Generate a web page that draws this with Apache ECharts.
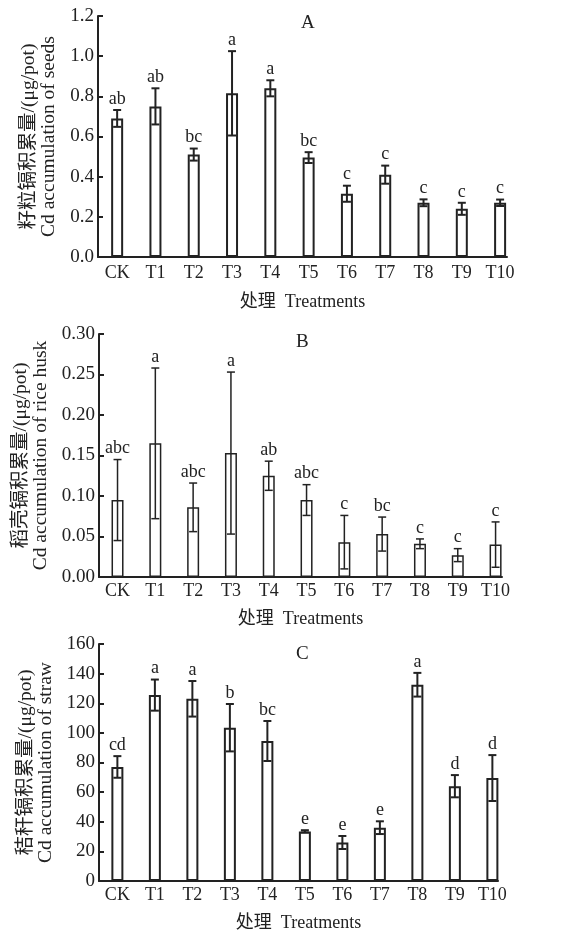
<!DOCTYPE html>
<html><head><meta charset="utf-8">
<script src="https://cdn.jsdelivr.net/npm/echarts@6/dist/echarts.min.js"></script>
<style>html,body{margin:0;padding:0;background:#fff}#c{width:566px;height:933px}</style>
</head><body><div id="c"></div>
<script>
const categories = ['CK','T1','T2','T3','T4','T5','T6','T7','T8','T9','T10'];
const seedsMean = [0.69,0.75,0.51,0.815,0.84,0.495,0.315,0.41,0.27,0.24,0.27];
const seedsErr = [0.042,0.09,0.03,0.21,0.04,0.027,0.04,0.045,0.017,0.03,0.016];
const seedsLetters = ['ab','ab','bc','a','a','bc','c','c','c','c','c'];
const huskMean = [0.095,0.165,0.086,0.153,0.125,0.095,0.043,0.053,0.041,0.027,0.040];
const huskErr = [0.05,0.093,0.03,0.10,0.018,0.019,0.033,0.021,0.006,0.008,0.028];
const huskLetters = ['abc','a','abc','a','ab','abc','c','bc','c','c','c'];
const strawMean = [77,125.5,123,103.5,94.5,33.5,26,36,132.5,64,69.5];
const strawErr = [7.3,10.5,12,16,13.5,0.8,4.4,4.3,8,7.5,15.5];
const strawLetters = ['cd','a','a','b','bc','e','e','e','a','d','d'];
const yNames = ['籽粒镉积累量/(μg/pot)\nCd accumulation of seeds','稻壳镉积累量/(μg/pot)\nCd accumulation of rice husk','秸秆镉积累量/(μg/pot)\nCd accumulation of straw'];
const panelTitles = ['A','B','C'];
const xName = '处理  Treatments';

const FONT = "'Liberation Serif','Times New Roman','Noto Sans CJK SC',serif";
const INK = '#222';
const chart = echarts.init(document.getElementById('c'));

const panels = [
  {mean:seedsMean, err:seedsErr, letters:seedsLetters, grid:{left:98,top:16,width:409,height:241}, xmin:-0.5, xmax:10.18, ymax:1.2, interval:0.2, dec:1, title:{left:296,top:9}, nameGap:36, labelMargin:7, lw:2},
  {mean:huskMean, err:huskErr, letters:huskLetters, grid:{left:99,top:334,width:403,height:243}, xmin:-0.49, xmax:10.17, ymax:0.3, interval:0.05, dec:2, title:{left:291,top:328}, nameGap:33, labelMargin:5, lw:1.5},
  {mean:strawMean, err:strawErr, letters:strawLetters, grid:{left:99,top:644,width:399,height:237}, xmin:-0.49, xmax:10.15, ymax:160, interval:20, dec:0, title:{left:291,top:640}, nameGap:33, labelMargin:5, lw:2}
];

const option = {animation:false, backgroundColor:'#fff', title:[], grid:[], xAxis:[], yAxis:[], series:[]};
panels.forEach((p, k) => {
  option.title.push({text:panelTitles[k], left:p.title.left, top:p.title.top, textStyle:{fontFamily:FONT, fontSize:19, fontWeight:'normal', color:INK}});
  option.grid.push(Object.assign({containLabel:false}, p.grid));
  option.xAxis.push({
    type:'value', gridIndex:k, min:p.xmin, max:p.xmax,
    axisLine:{show:true, onZero:false, lineStyle:{color:INK, width:2}},
    axisTick:{show:false}, splitLine:{show:false},
    axisLabel:{customValues:categories.map((c,i)=>i), formatter:v=>categories[Math.round(v)], margin:p.labelMargin, fontFamily:FONT, fontSize:18, color:INK},
    name:xName, nameLocation:'middle', nameGap:p.nameGap, nameTextStyle:{fontFamily:FONT, fontSize:18, color:INK}
  });
  option.yAxis.push({
    type:'value', gridIndex:k, min:0, max:p.ymax, interval:p.interval,
    axisLine:{show:true, onZero:false, lineStyle:{color:INK, width:2}},
    axisTick:{show:true, inside:true, length:5, lineStyle:{color:INK, width:2}},
    splitLine:{show:false},
    axisLabel:{formatter:v=>v.toFixed(p.dec), margin:4, fontFamily:FONT, fontSize:19, color:INK},
    name:yNames[k], nameLocation:'middle', nameRotate:90, nameGap:37,
    nameTextStyle:{fontFamily:FONT, fontSize:19.5, lineHeight:20, color:INK, align:'center'}
  });
  option.series.push({
    type:'bar', xAxisIndex:k, yAxisIndex:k, barWidth:12,
    data:p.mean.map((v,i)=>[i,v]),
    itemStyle:{color:'#fff', borderColor:INK, borderWidth:p.lw}
  });
  option.series.push({
    type:'custom', xAxisIndex:k, yAxisIndex:k, clip:false, z:5,
    data:p.mean.map((v,i)=>[i,v,p.err[i]]),
    renderItem:(params, api) => {
      const i = api.value(0), m = api.value(1), e = api.value(2);
      const hi = api.coord([i, m+e]), lo = api.coord([i, m-e]);
      const cw = 4;
      const ls = {stroke:INK, lineWidth:p.lw};
      return {type:'group', children:[
        {type:'line', shape:{x1:hi[0], y1:hi[1], x2:lo[0], y2:lo[1]}, style:ls},
        {type:'line', shape:{x1:hi[0]-cw, y1:hi[1], x2:hi[0]+cw, y2:hi[1]}, style:ls},
        {type:'line', shape:{x1:lo[0]-cw, y1:lo[1], x2:lo[0]+cw, y2:lo[1]}, style:ls},
        {type:'text', style:{text:p.letters[params.dataIndex], x:hi[0], y:hi[1]-2, align:'center', verticalAlign:'bottom', fontFamily:FONT, fontSize:18, fill:INK}}
      ]};
    }
  });
});
chart.setOption(option);
</script></body></html>
